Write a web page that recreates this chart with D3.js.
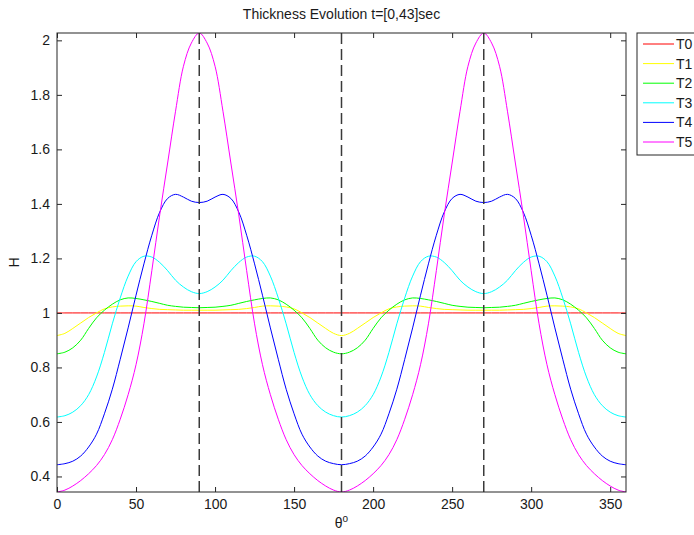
<!DOCTYPE html>
<html>
<head>
<meta charset="utf-8">
<script src="https://cdn.jsdelivr.net/npm/d3@7/dist/d3.min.js"></script>
<style>
  html, body { margin: 0; padding: 0; background: #fff; }
  svg { display: block; }
  text { font-family: "Liberation Sans", Arial, Helvetica, sans-serif; fill: #1a1a1a; }
</style>
</head>
<body>
<svg id="chart" width="694" height="535"></svg>
<script>
// Angle samples (degrees)
const theta = [0,5,10,15,20,25,30,35,40,45,50,55,60,65,70,75,80,85,90,
  95,100,105,110,115,120,125,130,135,140,145,150,155,160,165,170,175,180,
  185,190,195,200,205,210,215,220,225,230,235,240,245,250,255,260,265,270,
  275,280,285,290,295,300,305,310,315,320,325,330,335,340,345,350,355,360];

// Film thickness H at each angle, one array per time snapshot
const T0 = [1,1,1,1,1,1,1,1,1,1,1,1,1,1,1,1,1,1,1,
  1,1,1,1,1,1,1,1,1,1,1,1,1,1,1,1,1,1,
  1,1,1,1,1,1,1,1,1,1,1,1,1,1,1,1,1,1,
  1,1,1,1,1,1,1,1,1,1,1,1,1,1,1,1,1,1];
const T1 = [0.917,0.925,0.943,0.963,0.983,1.0,1.015,1.022,1.025,1.026,1.025,1.02,1.016,1.013,1.012,1.011,1.01,1.01,1.01,
  1.01,1.01,1.011,1.012,1.013,1.016,1.02,1.025,1.026,1.025,1.022,1.015,1.0,0.983,0.963,0.943,0.925,0.917,
  0.925,0.943,0.963,0.983,1.0,1.015,1.022,1.025,1.026,1.025,1.02,1.016,1.013,1.012,1.011,1.01,1.01,1.01,
  1.01,1.01,1.011,1.012,1.013,1.016,1.02,1.025,1.026,1.025,1.022,1.015,1.0,0.983,0.963,0.943,0.925,0.917];
const T2 = [0.85,0.856,0.872,0.9,0.943,0.982,1.01,1.032,1.048,1.055,1.053,1.048,1.042,1.035,1.028,1.024,1.021,1.02,1.019,
  1.02,1.021,1.024,1.028,1.035,1.042,1.048,1.053,1.055,1.048,1.032,1.01,0.982,0.943,0.9,0.872,0.856,0.85,
  0.856,0.872,0.9,0.943,0.982,1.01,1.032,1.048,1.055,1.053,1.048,1.042,1.035,1.028,1.024,1.021,1.02,1.019,
  1.02,1.021,1.024,1.028,1.035,1.042,1.048,1.053,1.055,1.048,1.032,1.01,0.982,0.943,0.9,0.872,0.856,0.85];
const T3 = [0.618,0.623,0.636,0.66,0.7,0.765,0.855,0.96,1.055,1.135,1.188,1.208,1.205,1.185,1.155,1.12,1.095,1.078,1.071,
  1.078,1.095,1.12,1.155,1.185,1.205,1.208,1.188,1.135,1.055,0.96,0.855,0.765,0.7,0.66,0.636,0.623,0.618,
  0.623,0.636,0.66,0.7,0.765,0.855,0.96,1.055,1.135,1.188,1.208,1.205,1.185,1.155,1.12,1.095,1.078,1.071,
  1.078,1.095,1.12,1.155,1.185,1.205,1.208,1.188,1.135,1.055,0.96,0.855,0.765,0.7,0.66,0.636,0.623,0.618];
const T4 = [0.443,0.447,0.456,0.475,0.508,0.555,0.63,0.72,0.83,0.945,1.065,1.18,1.285,1.37,1.42,1.435,1.425,1.41,1.405,
  1.41,1.425,1.435,1.42,1.37,1.285,1.18,1.065,0.945,0.83,0.72,0.63,0.555,0.508,0.475,0.456,0.447,0.443,
  0.447,0.456,0.475,0.508,0.555,0.63,0.72,0.83,0.945,1.065,1.18,1.285,1.37,1.42,1.435,1.425,1.41,1.405,
  1.41,1.425,1.435,1.42,1.37,1.285,1.18,1.065,0.945,0.83,0.72,0.63,0.555,0.508,0.475,0.456,0.447,0.443];
const T5 = [0.343,0.35,0.365,0.385,0.41,0.44,0.48,0.535,0.61,0.7,0.81,0.96,1.155,1.36,1.55,1.74,1.905,1.99,2.027,
  1.99,1.905,1.74,1.55,1.36,1.155,0.96,0.81,0.7,0.61,0.535,0.48,0.44,0.41,0.385,0.365,0.35,0.343,
  0.35,0.365,0.385,0.41,0.44,0.48,0.535,0.61,0.7,0.81,0.96,1.155,1.36,1.55,1.74,1.905,1.99,2.027,
  1.99,1.905,1.74,1.55,1.36,1.155,0.96,0.81,0.7,0.61,0.535,0.48,0.44,0.41,0.385,0.365,0.35,0.343];

const seriesNames = ["T0","T1","T2","T3","T4","T5"];
const seriesValues = [T0, T1, T2, T3, T4, T5];
const seriesColors = ["#ff0000","#ffff00","#00ff00","#00ffff","#0000ff","#ff00ff"];

const xTicks = [0,50,100,150,200,250,300,350];
const yTicks = [0.4,0.6,0.8,1,1.2,1.4,1.6,1.8,2];
const markerAngles = [90,180,270];

const titleText = "Thickness Evolution t=[0,43]sec";

// Layout
const plot = { left: 57, right: 626, top: 33, bottom: 492 };
const svg = d3.select("#chart");

const x = d3.scaleLinear().domain([0, 360]).range([plot.left, plot.right]);
const y = d3.scaleLinear().domain([0.343, 2.027]).range([plot.bottom, plot.top]);

svg.append("defs").append("clipPath").attr("id", "plotClip")
  .append("rect")
  .attr("x", plot.left).attr("y", plot.top)
  .attr("width", plot.right - plot.left).attr("height", plot.bottom - plot.top);

// Curves
const line = d3.line()
  .x((d, i) => x(theta[i]))
  .y(d => y(d))
  .curve(d3.curveCatmullRom.alpha(0.5));

const curves = svg.append("g").attr("clip-path", "url(#plotClip)");
seriesValues.forEach((vals, k) => {
  curves.append("path")
    .datum(vals)
    .attr("fill", "none")
    .attr("stroke", seriesColors[k])
    .attr("stroke-width", 1)
    .attr("d", line);
});

// Dashed reference lines
curves.selectAll("line.marker")
  .data(markerAngles)
  .join("line")
  .attr("class", "marker")
  .attr("x1", d => x(d)).attr("x2", d => x(d))
  .attr("y1", plot.top).attr("y2", plot.bottom)
  .attr("stroke", "#3a3a3a")
  .attr("stroke-width", 1.5)
  .attr("stroke-dasharray", "11,5");

// Axes (ticks inward on all four sides)
const tickLen = 5;
const axisFont = "14px";
const xAxisB = d3.axisBottom(x).tickValues(xTicks).tickSize(-tickLen).tickPadding(7).tickFormat(d3.format("d"));
const xAxisT = d3.axisTop(x).tickValues(xTicks).tickSize(-tickLen).tickFormat("");
const yAxisL = d3.axisLeft(y).tickValues(yTicks).tickSize(-tickLen).tickPadding(7).tickFormat(d => String(+d.toFixed(1)));
const yAxisR = d3.axisRight(y).tickValues(yTicks).tickSize(-tickLen).tickFormat("");

function styleAxis(g) {
  g.select(".domain").remove();
  g.selectAll(".tick line").attr("stroke", "#262626");
  g.selectAll(".tick text").attr("font-size", axisFont).attr("fill", "#1a1a1a")
    .attr("font-family", "'Liberation Sans', Arial, sans-serif");
}

svg.append("g").attr("transform", `translate(0,${plot.bottom})`).call(xAxisB).call(styleAxis);
svg.append("g").attr("transform", `translate(0,${plot.top})`).call(xAxisT).call(styleAxis);
svg.append("g").attr("transform", `translate(${plot.left},0)`).call(yAxisL).call(styleAxis);
svg.append("g").attr("transform", `translate(${plot.right},0)`).call(yAxisR).call(styleAxis);

// Frame
svg.append("rect")
  .attr("x", plot.left).attr("y", plot.top)
  .attr("width", plot.right - plot.left).attr("height", plot.bottom - plot.top)
  .attr("fill", "none").attr("stroke", "#262626").attr("stroke-width", 1);

// Title and axis labels
svg.append("text")
  .attr("x", (plot.left + plot.right) / 2).attr("y", 19)
  .attr("text-anchor", "middle").attr("font-size", "14px")
  .text(titleText);

const xl = svg.append("text")
  .attr("x", (plot.left + plot.right) / 2).attr("y", 528)
  .attr("text-anchor", "middle").attr("font-size", "14px");
xl.append("tspan").text("θ");
xl.append("tspan").attr("font-size", "10px").attr("dy", -6).text("o");

svg.append("text")
  .attr("transform", `translate(19,${(plot.top + plot.bottom) / 2}) rotate(-90)`)
  .attr("text-anchor", "middle").attr("font-size", "14px")
  .text("H");

// Legend
const legend = { left: 637, top: 33, width: 70, height: 122, rowGap: 19.6, firstRow: 44 };
const lg = svg.append("g");
lg.append("rect")
  .attr("x", legend.left).attr("y", legend.top)
  .attr("width", legend.width).attr("height", legend.height)
  .attr("fill", "#fff").attr("stroke", "#262626").attr("stroke-width", 1);
seriesNames.forEach((name, k) => {
  const yy = legend.firstRow + k * legend.rowGap;
  lg.append("line")
    .attr("x1", legend.left + 6).attr("x2", legend.left + 37)
    .attr("y1", yy).attr("y2", yy)
    .attr("stroke", seriesColors[k]).attr("stroke-width", 1);
  lg.append("text")
    .attr("x", legend.left + 39).attr("y", yy + 5)
    .attr("font-size", "14px")
    .text(name);
});
</script>
</body>
</html>
